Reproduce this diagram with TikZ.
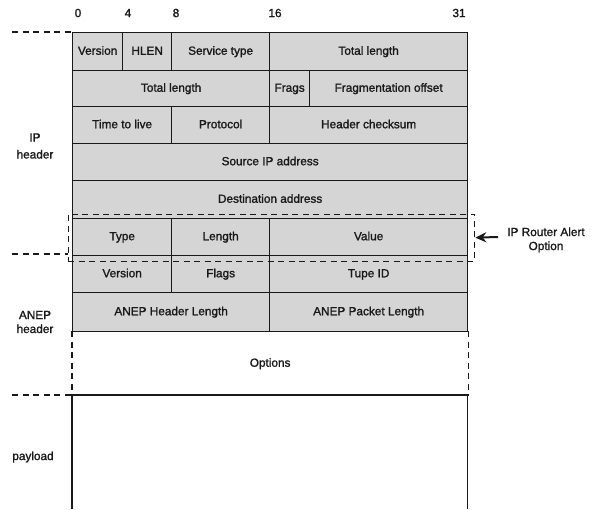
\documentclass[tikz,border=0pt]{standalone}
\usepackage{fontspec}
\setmainfont{Liberation Sans}
\newfontfamily\heavysans[FakeBold=1.4]{Liberation Sans}
\usetikzlibrary{arrows.meta}
\definecolor{fieldgray}{RGB}{213,213,213}
\definecolor{inkc}{RGB}{25,25,25}
\tikzset{
  field/.style={draw=inkc, fill=fieldgray, line width=1.3pt, inner sep=0pt, anchor=north west,
    font=\heavysans\fontsize{11.8}{14}\selectfont, text=inkc, text height=8.6pt, text depth=2.4pt},
  lbl/.style={inner sep=0pt, align=center, font=\heavysans\fontsize{11.8}{14}\selectfont, text=inkc},
  dashline/.style={draw=inkc, line width=1.3pt, dash pattern=on 6pt off 4.5pt},
  solidline/.style={draw=inkc, line width=1.3pt}
}
\begin{document}
\begin{tikzpicture}[x=1pt,y=-1pt]
\useasboundingbox (0,0) rectangle (597,509);
% bit numbers
\node[lbl] (b0)  at (78,13)  {0};
\node[lbl] (b4)  at (128,13) {4};
\node[lbl] (b8)  at (176,13) {8};
\node[lbl] (b16) at (275,13) {16};
\node[lbl] (b31) at (459,13) {31};
% row 1
\node[field, minimum width=50pt,  minimum height=38pt] (ver)  at (72,32)  {Version};
\node[field, minimum width=49pt,  minimum height=38pt] (hlen) at (122,32) {HLEN};
\node[field, minimum width=98pt,  minimum height=38pt] (tos)  at (171,32) {Service type};
\node[field, minimum width=198pt, minimum height=38pt] (tl1)  at (269,32) {Total length};
% row 2
\node[field, minimum width=197pt, minimum height=36pt] (tl2)  at (72,70)  {Total length};
\node[field, minimum width=40pt,  minimum height=36pt] (frg)  at (269,70) {Frags};
\node[field, minimum width=158pt, minimum height=36pt] (fof)  at (309,70) {Fragmentation offset};
% row 3
\node[field, minimum width=99pt,  minimum height=37pt] (ttl)  at (72,106)  {Time to live};
\node[field, minimum width=98pt,  minimum height=37pt] (prot) at (171,106) {Protocol};
\node[field, minimum width=198pt, minimum height=37pt] (hcs)  at (269,106) {Header checksum};
% row 4,5
\node[field, minimum width=395pt, minimum height=37pt] (src)  at (72,143) {Source IP address};
\node[field, minimum width=395pt, minimum height=38pt] (dst)  at (72,180) {Destination address};
% row 6
\node[field, minimum width=99pt,  minimum height=37pt] (typ)  at (72,218)  {Type};
\node[field, minimum width=98pt,  minimum height=37pt] (len)  at (171,218) {Length};
\node[field, minimum width=198pt, minimum height=37pt] (val)  at (269,218) {Value};
% row 7
\node[field, minimum width=99pt,  minimum height=37pt] (aver) at (72,255)  {Version};
\node[field, minimum width=98pt,  minimum height=37pt] (afl)  at (171,255) {Flags};
\node[field, minimum width=198pt, minimum height=37pt] (tid)  at (269,255) {Tupe ID};
% row 8
\node[field, minimum width=197pt, minimum height=39pt] (ahl)  at (72,292)  {ANEP Header Length};
\node[field, minimum width=198pt, minimum height=39pt] (apl)  at (269,292) {ANEP Packet Length};
% options
\node[field, draw=none, fill=none, minimum width=395pt, minimum height=64pt] (opt) at (72,331) {Options};
\draw[dashline] (opt.north west) -- (opt.south west);
\draw[dashline] (opt.north east) -- (opt.south east);
% payload
\node[inner sep=0pt, anchor=north west, minimum width=395pt, minimum height=114pt] (pay) at (72,395) {};
\draw[solidline] (pay.south west) -- (pay.north west) -- (pay.north east) -- (pay.south east);
% router alert dashed box
\node[dashline, inner sep=0pt, anchor=north west, minimum width=406.5pt, minimum height=47pt] (alert) at (67.5,213.5) {};
\coordinate (atail) at (498,237);
\draw[draw=inkc, line width=2pt, -{Stealth[length=11pt,width=10pt]}] (atail) -- (alert.east);
\node[lbl] (alertlbl) at (546,240) {IP Router Alert\\Option};
% left labels and separators
\node[lbl, font=\heavysans\fontsize{11.8}{17}\selectfont] (iph) at (35,146) {IP\\header};
\node[lbl] (anh) at (35,322) {ANEP\\header};
\node[lbl] (pl)  at (33,457) {payload};
\coordinate (s1) at (12,32);
\coordinate (s2) at (12,254);
\coordinate (s2e) at (67.5,254);
\coordinate (s3) at (12,395);
\draw[dashline] (s1) -- (ver.north west);
\draw[dashline] (s2) -- (s2e);
\draw[dashline] (s3) -- (pay.north west);
\end{tikzpicture}
\end{document}
